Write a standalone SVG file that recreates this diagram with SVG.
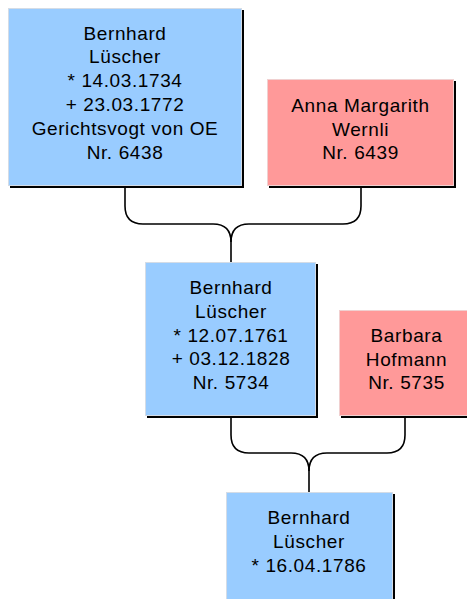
<svg xmlns="http://www.w3.org/2000/svg" width="467" height="599" viewBox="0 0 467 599">
<style>
.shadow{fill:#000}
.m{fill:#99ccff;stroke:#d4dce6;stroke-width:1}
.f{fill:#ff9999;stroke:#f0d0d0;stroke-width:1}
text{font-family:"Liberation Sans",Arial,sans-serif;font-size:19px;letter-spacing:0.6px;fill:#000;text-anchor:middle}
.c{fill:none;stroke:#000;stroke-width:1.6}
</style>
<rect width="467" height="599" fill="#fff"/>
<g id="connectors">
<path class="c" d="M125,188 V206 Q125,224 143,224 H213 Q231,224 231,242 V262"/>
<path class="c" d="M361,188 V206 Q361,224 343,224 H249 Q231,224 231,242"/>
<path class="c" d="M231,418 V435 Q231,453 249,453 H291 Q309,453 309,471 V492"/>
<path class="c" d="M405,418 V435 Q405,453 387,453 H327 Q309,453 309,471"/>
</g>
<g id="n6438">
<rect class="shadow" x="10" y="10" width="234" height="178"/>
<rect class="m" x="8.5" y="8.5" width="233" height="177"/>
<text x="125" y="39.5">Bernhard</text>
<text x="125" y="63.3">Lüscher</text>
<text x="125" y="87.1">* 14.03.1734</text>
<text x="125" y="110.9">+ 23.03.1772</text>
<text x="125" y="134.7">Gerichtsvogt von OE</text>
<text x="125" y="158.5">Nr. 6438</text>
</g>
<g id="n6439">
<rect class="shadow" x="269" y="81" width="187" height="107"/>
<rect class="f" x="267.5" y="79.5" width="186" height="106"/>
<text x="360.5" y="111.7">Anna Margarith</text>
<text x="360.5" y="135.5">Wernli</text>
<text x="360.5" y="159.3">Nr. 6439</text>
</g>
<g id="n5734">
<rect class="shadow" x="147" y="264" width="171" height="154"/>
<rect class="m" x="145.5" y="262.5" width="170" height="153"/>
<text x="231" y="294">Bernhard</text>
<text x="231" y="317.8">Lüscher</text>
<text x="231" y="341.6">* 12.07.1761</text>
<text x="231" y="365.4">+ 03.12.1828</text>
<text x="231" y="389.2">Nr. 5734</text>
</g>
<g id="n5735">
<rect class="shadow" x="341" y="312" width="135" height="106"/>
<rect class="f" x="339.5" y="310.5" width="134" height="105"/>
<text x="406.5" y="341.7">Barbara</text>
<text x="406.5" y="365.5">Hofmann</text>
<text x="406.5" y="389.3">Nr. 5735</text>
</g>
<g id="n5734child">
<rect class="shadow" x="228" y="494" width="167" height="120"/>
<rect class="m" x="226.5" y="492.5" width="166" height="120"/>
<text x="309" y="524">Bernhard</text>
<text x="309" y="547.8">Lüscher</text>
<text x="309" y="571.6">* 16.04.1786</text>
</g>
</svg>
